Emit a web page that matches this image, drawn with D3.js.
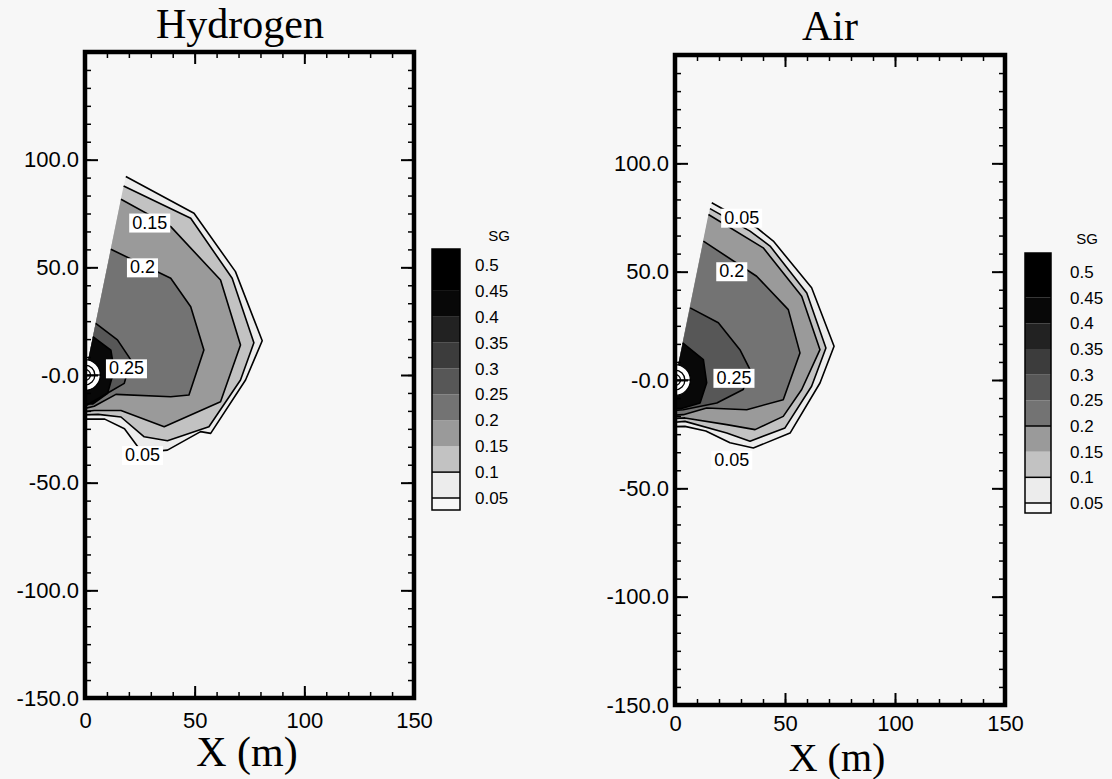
<!DOCTYPE html>
<meta charset="utf-8">
<style>
  body { margin: 0; background: #f7f7f7; }
  svg { display: block; }
  .tick text { font-family: "Liberation Sans", Arial, sans-serif; font-size: 22px; fill: #000; }
  .tick line { stroke: #000; stroke-width: 2px; }
  .minor .tick line { stroke-width: 1.5px; }
  .title { font-family: "Liberation Serif", "Times New Roman", serif; font-size: 42px; text-anchor: middle; fill: #000; }
  .clabel { font-family: "Liberation Sans", Arial, sans-serif; font-size: 18px; text-anchor: middle; fill: #000; }
  .leg text { font-family: "Liberation Sans", Arial, sans-serif; font-size: 17px; fill: #000; }
</style>
<body>
<script src="https://d3js.org/d3.v7.min.js"></script>
<script>
// ---- data ----
var xTicks = [0, 50, 100, 150];
var yTicks = [-150, -100, -50, 0, 50, 100];
var levels = [0.05, 0.1, 0.15, 0.2, 0.25, 0.3, 0.35, 0.4, 0.45, 0.5];
// band below 0.05, then one band starting at each level
var bandColors = ["#f7f7f7", "#ececec", "#c2c2c2", "#9a9a9a", "#737373", "#575757",
                  "#3c3c3c", "#222222", "#080808", "#000000", "#000000"];

// Hydrogen contours, points in metres (x, y); first point on the sector edge, last on x = 0
var h2Levels = [0.05, 0.1, 0.15, 0.2, 0.25, 0.4];
var h2_05 = [[18.6, 92.2], [49.7, 75.1], [68.6, 48.0], [80.8, 15.9], [73.2, -2.3], [57.3, -27.1],
             [52.7, -26.3], [37.6, -34.9], [26, -36], [18, -25], [9, -20.5], [0, -20.5]];
var h2_10 = [[17.6, 87.8], [48.2, 72.8], [67.1, 44.9], [77.0, 15.0], [70.9, -2.3], [56.5, -24.0],
             [37.6, -30.5], [27.0, -28.7], [16.4, -19.5], [6, -18.3], [0, -18.5]];
var h2_15 = [[16.4, 81.6], [39.1, 68.9], [61.8, 44.1], [70.9, 13.9], [61.8, -12.4], [36.1, -24.0],
             [16.4, -16.5], [4.2, -16.5], [0, -17]];
var h2_20 = [[11.8, 58.4], [39.1, 44.9], [48.2, 31.7], [54.2, 11.6], [47.4, -9.3], [39.1, -10.1],
             [14.1, -9], [4.2, -14.5], [0, -15.5]];
var h2_25 = [[4.9, 24.0], [14.8, 16.3], [20.9, 7.0], [17.9, -3.9], [8.8, -9.3], [0, -14.5]];
var h2_40 = [[3.6, 17.8], [11.8, 11.6], [13.3, 2.3], [10.3, -8.5], [3.5, -13.5], [0, -13.5]];
var h2LabelText = ["0.15", "0.2", "0.25", "0.05"];
var h2LabelPos = [[29.5, 70.8], [26.2, 50.0], [18.9, 3.1], [26.2, -37.2]];

// Air contours
var airLevels = [0.05, 0.1, 0.15, 0.2, 0.25, 0.4];
var air_05 = [[16.7, 81.8], [37.1, 70.3], [44.7, 64.1], [62.1, 42.6], [72.3, 15.6], [65.9, -1.4],
              [52.3, -24.5], [35.6, -31.4], [25, -29], [14, -23.5], [4.5, -21.4], [0, -21.5]];
var air_10 = [[15.9, 79.1], [34.1, 68.7], [43.2, 61.8], [59.9, 40.2], [68.6, 14.8], [62.1, -2.9],
              [50, -22.1], [34.1, -28.3], [23.5, -24.5], [4.5, -19.1], [0, -19.5]];
var air_15 = [[15.2, 76.4], [40.1, 61.0], [57.6, 38.7], [65.9, 14.0], [57.6, -4.4], [49.2, -16.8],
              [36.4, -22.9], [23.5, -20.6], [4.5, -17.5], [0, -17.8]];
var air_20 = [[12.9, 64.1], [37.1, 47.9], [51.5, 32.5], [56.8, 12.5], [49.2, -9.1], [32.6, -13.7],
              [14.4, -12.9], [3.8, -16.0], [0, -16.2]];
var air_25 = [[6.9, 33.3], [19.7, 26.4], [29.5, 14.0], [34.1, 4.8], [31.0, -4.4], [19.0, -10.6],
              [3.8, -13.7], [0, -14]];
var air_40 = [[3.5, 17.1], [12.9, 9.4], [14.4, -1.3], [11.4, -10.6], [3.0, -13.2], [0, -13.2]];
var airLabelText = ["0.05", "0.2", "0.25", "0.05"];
var airLabelPos = [[30.3, 74.9], [25.8, 50.2], [26.8, 1.0], [25.8, -36.8]];

var sourceRings = [7, 4.5, 2.5];

// ---- layout ----
var panels = [
  { title: "Hydrogen", levels: h2Levels, contours: [h2_05, h2_10, h2_15, h2_20, h2_25, h2_40],
    labelText: h2LabelText, labelPos: h2LabelPos, legendLines: [0.05, 0.1],
    x0: 85, x1: 414, yTop: 52, yBot: 698, titleX: 240, titleY: 38,
    xlabX: 247, xlabY: 766, xlabSize: 42, xPad: 14,
    leg: { x: 432, w: 28, top: 249, bot: 510, y05: 498, y50: 265, tx: 475, sgX: 499, sgY: 241 } },
  { title: "Air", levels: airLevels, contours: [air_05, air_10, air_15, air_20, air_25, air_40],
    labelText: airLabelText, labelPos: airLabelPos, legendLines: [0.05, 0.1, 0.2],
    x0: 675, x1: 1005, yTop: 55, yBot: 705, titleX: 830, titleY: 40,
    xlabX: 837, xlabY: 771, xlabSize: 40, xPad: 10,
    leg: { x: 1025, w: 26, top: 253, bot: 513, y05: 503, y50: 272, tx: 1070, sgX: 1087, sgY: 244 } }
];

var svg = d3.select("body").append("svg").attr("width", 1112).attr("height", 779);
var fmtY = function(d) { return d === 0 ? "-0.0" : d.toFixed(1); };

panels.forEach(function(p, i) {
  var x = d3.scaleLinear().domain([0, 150]).range([p.x0, p.x1]);
  var y = d3.scaleLinear().domain([-150, 150]).range([p.yBot, p.yTop]);
  var line = d3.line().x(function(d) { return x(d[0]); }).y(function(d) { return y(d[1]); });
  var g = svg.append("g");

  g.append("clipPath").attr("id", "clip" + i).append("rect")
    .attr("x", p.x0).attr("y", p.yTop).attr("width", p.x1 - p.x0).attr("height", p.yBot - p.yTop);
  var plot = g.append("g").attr("clip-path", "url(#clip" + i + ")");

  // filled bands, outermost first
  p.contours.forEach(function(pts, k) {
    plot.append("path")
      .attr("d", line([[0, 0]].concat(pts)) + "Z")
      .attr("fill", bandColors[levels.indexOf(p.levels[k]) + 1]);
  });
  // contour lines
  p.contours.forEach(function(pts) {
    plot.append("path").attr("d", line(pts))
      .attr("fill", "none").attr("stroke", "#000").attr("stroke-width", 1.6)
      .attr("stroke-linejoin", "round");
  });

  // source rings at the origin
  var rk = x(1) - x(0);
  sourceRings.forEach(function(r, k) {
    plot.append("path")
      .attr("transform", "translate(" + x(0) + "," + y(0) + ")")
      .attr("d", d3.arc()({ innerRadius: 0, outerRadius: r * rk, startAngle: 0, endAngle: Math.PI }))
      .attr("fill", k === 0 ? "#fff" : "none").attr("stroke", "#000").attr("stroke-width", 1.3);
  });
  plot.append("line").attr("x1", x(0)).attr("x2", x(sourceRings[0]))
    .attr("y1", y(0)).attr("y2", y(0)).attr("stroke", "#000").attr("stroke-width", 1.3);

  // contour labels
  p.labelText.forEach(function(t, k) {
    var lg = plot.append("g");
    var txt = lg.append("text").attr("class", "clabel")
      .attr("x", x(p.labelPos[k][0])).attr("y", y(p.labelPos[k][1]) + 6).text(t);
    var bb = txt.node().getBBox();
    lg.insert("rect", "text").attr("x", bb.x - 3).attr("y", bb.y + 1)
      .attr("width", bb.width + 6).attr("height", bb.height - 1).attr("fill", "#fff");
  });

  // axes
  function clean(s) { s.select(".domain").remove(); }
  var yMinor = d3.range(-150, 150.01, 50 / 6);
  var xMinor = d3.range(0, 150.01, 10);
  g.append("g").attr("class", "minor").attr("transform", "translate(" + p.x0 + ",0)")
    .call(d3.axisLeft(y).tickValues(yMinor).tickSize(-6).tickFormat("")).call(clean);
  g.append("g").attr("class", "minor").attr("transform", "translate(" + p.x1 + ",0)")
    .call(d3.axisRight(y).tickValues(yMinor).tickSize(-6).tickFormat("")).call(clean);
  g.append("g").attr("class", "minor").attr("transform", "translate(0," + p.yTop + ")")
    .call(d3.axisTop(x).tickValues(xMinor).tickSize(-6).tickFormat("")).call(clean);
  g.append("g").attr("class", "minor").attr("transform", "translate(0," + p.yBot + ")")
    .call(d3.axisBottom(x).tickValues(xMinor).tickSize(-6).tickFormat("")).call(clean);

  g.append("g").attr("transform", "translate(" + p.x0 + ",0)")
    .call(d3.axisLeft(y).tickValues(yTicks).tickSize(-13).tickPadding(6).tickFormat(fmtY)).call(clean);
  g.append("g").attr("transform", "translate(" + p.x1 + ",0)")
    .call(d3.axisRight(y).tickValues(yTicks).tickSize(-13).tickFormat("")).call(clean);
  g.append("g").attr("transform", "translate(0," + p.yTop + ")")
    .call(d3.axisTop(x).tickValues(xTicks).tickSize(-12).tickFormat("")).call(clean);
  g.append("g").attr("transform", "translate(0," + p.yBot + ")")
    .call(d3.axisBottom(x).tickValues(xTicks).tickSize(-12).tickPadding(p.xPad).tickFormat(d3.format("d"))).call(clean);

  // frame
  g.append("rect").attr("x", p.x0).attr("y", p.yTop)
    .attr("width", p.x1 - p.x0).attr("height", p.yBot - p.yTop)
    .attr("fill", "none").attr("stroke", "#000").attr("stroke-width", 4.5);

  // titles
  g.append("text").attr("class", "title").attr("x", p.titleX).attr("y", p.titleY).text(p.title);
  g.append("text").attr("class", "title").attr("x", p.xlabX).attr("y", p.xlabY)
    .style("font-size", p.xlabSize + "px").text("X (m)");

  // legend
  var L = p.leg;
  var ly = d3.scaleLinear().domain([0.05, 0.5]).range([L.y05, L.y50]);
  var leg = g.append("g").attr("class", "leg");
  var edges = [ly.invert(L.bot)].concat(levels, [ly.invert(L.top)]);
  for (var b = 0; b < edges.length - 1; b++) {
    leg.append("rect").attr("x", L.x).attr("width", L.w)
      .attr("y", ly(edges[b + 1])).attr("height", ly(edges[b]) - ly(edges[b + 1]))
      .attr("fill", bandColors[b]);
  }
  p.legendLines.forEach(function(v) {
    leg.append("line").attr("x1", L.x).attr("x2", L.x + L.w).attr("y1", ly(v)).attr("y2", ly(v))
      .attr("stroke", "#000").attr("stroke-width", 1.5);
  });
  leg.append("rect").attr("x", L.x).attr("y", L.top).attr("width", L.w).attr("height", L.bot - L.top)
    .attr("fill", "none").attr("stroke", "#000").attr("stroke-width", 1.5);
  levels.forEach(function(v) {
    leg.append("text").attr("x", L.tx).attr("y", ly(v)).attr("dy", "0.35em").text(d3.format("")(v));
  });
  leg.append("text").attr("x", L.sgX).attr("y", L.sgY).attr("text-anchor", "middle")
    .style("font-size", "15px").text("SG");
});
</script>
</body>
